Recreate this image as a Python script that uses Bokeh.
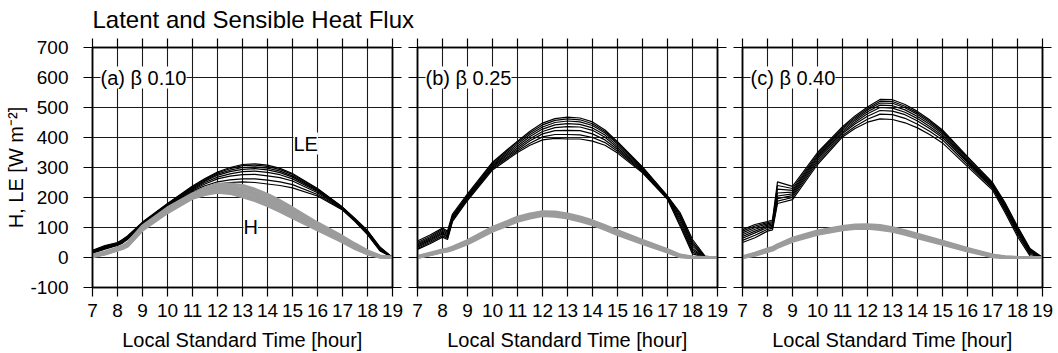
from bokeh.plotting import figure
from bokeh.layouts import row, column
from bokeh.models import Label, LinearAxis, FixedTicker, Range1d
from bokeh.embed import file_html
from bokeh.resources import INLINE

# Local standard time of the samples [hour]
hours = [7, 7.5, 8, 8.2, 8.4, 9, 10, 11, 11.5, 12, 12.5, 13, 13.5, 14, 14.5,
         15, 16, 17, 17.5, 18, 18.5, 19]

# (a) beta 0.10 : latent heat flux LE [W m-2], one row per day
le_a = [
    [24, 40, 50, 60, 72, 118, 180, 238, 263, 285, 300, 310, 312, 308, 297, 280, 230, 168, 130, 90, 35, 0],
    [22, 38, 48, 58, 70, 116, 178, 236, 260, 282, 296, 306, 308, 304, 293, 277, 228, 167, 128, 88, 33, 0],
    [20, 36, 47, 55, 68, 114, 176, 233, 257, 278, 291, 300, 302, 298, 288, 272, 226, 166, 127, 86, 31, 0],
    [18, 35, 45, 54, 66, 113, 175, 231, 254, 274, 286, 294, 296, 292, 283, 268, 223, 165, 126, 84, 30, 0],
    [17, 33, 44, 58, 67, 112, 173, 228, 250, 268, 279, 286, 288, 284, 276, 262, 220, 164, 125, 82, 28, 0],
    [16, 32, 43, 52, 64, 111, 172, 225, 245, 262, 271, 276, 277, 272, 266, 255, 216, 162, 124, 80, 26, 0],
    [15, 30, 42, 50, 62, 110, 170, 222, 239, 252, 259, 262, 262, 258, 252, 243, 210, 160, 122, 78, 24, 0],
    [14, 28, 40, 48, 60, 108, 168, 218, 233, 245, 250, 252, 250, 245, 240, 232, 205, 158, 120, 76, 22, 0],
]
# (a) sensible heat flux H [W m-2]
h_a = [
    [8, 18, 32, 38, 48, 105, 165, 212, 231, 245, 245, 240, 227, 210, 189, 165, 115, 70, 45, 22, 5, 0],
    [6, 16, 30, 36, 45, 100, 160, 207, 225, 238, 237, 230, 217, 200, 180, 157, 108, 64, 40, 18, 4, 0],
    [5, 14, 28, 34, 42, 97, 156, 203, 220, 232, 230, 222, 209, 192, 172, 150, 103, 60, 36, 15, 3, 0],
    [4, 13, 26, 32, 40, 94, 152, 200, 215, 225, 222, 212, 199, 183, 163, 142, 97, 56, 33, 13, 2, 0],
    [3, 12, 25, 30, 38, 92, 150, 198, 210, 218, 214, 203, 190, 173, 154, 133, 92, 52, 30, 12, 2, 0],
]

# (b) beta 0.25
le_b = [
    [55, 75, 98, 88, 145, 212, 318, 388, 421, 448, 463, 468, 465, 452, 425, 386, 302, 205, 150, 60, 5, 0],
    [50, 70, 94, 84, 140, 208, 314, 384, 416, 442, 457, 462, 459, 446, 420, 382, 300, 204, 145, 52, 3, 0],
    [46, 66, 90, 80, 137, 205, 310, 378, 410, 435, 450, 455, 452, 440, 415, 378, 297, 202, 140, 45, 2, 0],
    [42, 62, 86, 76, 134, 202, 306, 372, 403, 428, 442, 446, 444, 432, 408, 372, 294, 200, 135, 38, 1, 0],
    [38, 58, 82, 72, 131, 200, 303, 366, 396, 420, 433, 436, 435, 424, 401, 366, 291, 199, 128, 30, 0, 0],
    [34, 54, 78, 68, 128, 197, 300, 360, 389, 412, 423, 424, 423, 412, 392, 360, 288, 197, 120, 24, 0, 0],
    [30, 50, 73, 64, 124, 194, 296, 355, 381, 402, 410, 410, 409, 400, 383, 354, 285, 196, 112, 18, 0, 0],
    [27, 46, 68, 60, 120, 190, 292, 350, 374, 392, 397, 395, 395, 388, 374, 348, 282, 194, 105, 12, 0, 0],
]
h_b = [
    [3, 14, 25, 28, 34, 56, 100, 134, 145, 152, 151, 145, 135, 122, 106, 89, 57, 26, 8, 1, 0, 0],
    [2, 12, 23, 26, 32, 53, 97, 130, 141, 149, 147, 141, 131, 119, 103, 86, 54, 24, 7, 0, 0, 0],
    [1, 11, 22, 25, 30, 51, 94, 127, 138, 146, 144, 138, 128, 116, 100, 83, 52, 22, 5, 0, 0, 0],
    [1, 10, 20, 23, 28, 48, 91, 124, 135, 143, 141, 135, 125, 113, 97, 80, 49, 20, 4, 0, 0, 0],
    [0, 9, 19, 22, 27, 46, 88, 121, 132, 140, 138, 132, 122, 110, 94, 77, 47, 18, 3, 0, 0, 0],
]

# (c) beta 0.40
le_c = [
    [93, 110, 120, 125, 252, 237, 350, 436, 472, 502, 527, 526, 510, 487, 458, 425, 336, 250, 183, 104, 30, 0],
    [88, 105, 116, 120, 240, 230, 345, 432, 467, 497, 521, 520, 504, 482, 454, 421, 332, 247, 179, 100, 27, 0],
    [82, 100, 112, 116, 228, 224, 340, 428, 462, 492, 515, 514, 499, 477, 449, 417, 328, 244, 175, 96, 24, 0],
    [76, 94, 108, 112, 215, 218, 335, 423, 457, 486, 508, 506, 492, 470, 443, 412, 324, 241, 171, 92, 21, 0],
    [70, 88, 104, 108, 205, 212, 330, 418, 451, 479, 500, 498, 484, 463, 436, 406, 320, 238, 167, 88, 18, 0],
    [64, 82, 100, 104, 196, 206, 324, 413, 445, 471, 490, 488, 476, 455, 429, 400, 316, 235, 162, 84, 14, 0],
    [57, 74, 94, 98, 188, 200, 317, 407, 437, 461, 478, 476, 464, 444, 420, 392, 310, 231, 157, 78, 10, 0],
    [50, 66, 88, 92, 180, 193, 310, 402, 430, 451, 462, 460, 449, 432, 409, 382, 303, 225, 150, 70, 5, 0],
]
h_c = [
    [2, 14, 28, 33, 42, 64, 88, 103, 108, 109, 106, 99, 89, 77, 66, 54, 30, 8, 2, 0, 0, 0],
    [1, 12, 26, 31, 40, 61, 85, 100, 105, 106, 103, 96, 86, 74, 63, 51, 28, 6, 1, 0, 0, 0],
    [0, 10, 24, 29, 38, 59, 83, 98, 102, 104, 100, 94, 84, 72, 61, 49, 26, 5, 0, 0, 0, 0],
    [0, 9, 22, 27, 36, 56, 80, 95, 99, 101, 97, 91, 81, 69, 58, 47, 24, 4, 0, 0, 0, 0],
    [0, 8, 20, 25, 34, 54, 78, 93, 97, 98, 94, 88, 78, 66, 55, 44, 22, 3, 0, 0, 0, 0],
]

title_text = "Latent and Sensible Heat Flux"
panel_names = ["(a) \u03b2 0.10", "(b) \u03b2 0.25", "(c) \u03b2 0.40"]
x_ticks = [7, 8, 9, 10, 11, 12, 13, 14, 15, 16, 17, 18, 19]
y_ticks = [-100, 0, 100, 200, 300, 400, 500, 600, 700]
y_tick_text = {t: str(t) for t in y_ticks}  # plain hyphen for the negative tick

FONT = "Liberation Sans"
TICK_PX = "19px"
LABEL_PX = "20px"
TITLE_H = 36
PANEL_H = 353 - TITLE_H


def style_axis(ax, ticks, show_labels):
    ax.ticker = FixedTicker(ticks=ticks)
    ax.major_tick_in = 0
    ax.major_tick_out = 9
    ax.minor_tick_in = 0
    ax.minor_tick_out = 0
    ax.major_tick_line_color = "black"
    ax.major_tick_line_width = 1.2
    ax.axis_line_color = "black"
    ax.axis_line_width = 1.5
    ax.major_label_text_font = FONT
    if show_labels:
        ax.major_label_text_font_size = TICK_PX
        ax.major_label_text_color = "black"
        ax.major_label_standoff = 7
    else:
        # tick marks only
        ax.major_label_text_font_size = "1px"
        ax.major_label_text_color = None
        ax.major_label_standoff = 0


def make_panel(le, hh, name, width, border_left, border_right, first):
    p = figure(
        width=width, height=PANEL_H, title=None,
        x_range=Range1d(7, 19), y_range=Range1d(-100, 700),
        output_backend="svg", toolbar_location=None,
        min_border_left=border_left, min_border_right=border_right,
        min_border_top=47 - TITLE_H, min_border_bottom=65,
    )
    p.background_fill_color = "white"
    p.border_fill_color = "white"
    p.outline_line_color = "black"
    p.outline_line_width = 1.5

    # bottom axis with hour labels
    xa = p.xaxis[0]
    style_axis(xa, x_ticks, True)
    xa.axis_label = "Local Standard Time [hour]"
    xa.axis_label_text_font = FONT
    xa.axis_label_text_font_size = LABEL_PX
    xa.axis_label_text_font_style = "normal"
    xa.axis_label_text_color = "black"
    xa.axis_label_standoff = 9

    # left axis, labelled only on the first panel
    ya = p.yaxis[0]
    style_axis(ya, y_ticks, first)
    if first:
        ya.major_label_overrides = y_tick_text
        ya.axis_label = "H, LE [W m\u207b\u00b2]"
        ya.axis_label_text_font = FONT
        ya.axis_label_text_font_size = LABEL_PX
        ya.axis_label_text_font_style = "normal"
        ya.axis_label_text_color = "black"
        ya.axis_label_standoff = 0
        ya.major_label_standoff = 15

    # tick-only axes on top and right
    top = LinearAxis()
    style_axis(top, x_ticks, False)
    p.add_layout(top, "above")
    right = LinearAxis()
    style_axis(right, y_ticks, False)
    p.add_layout(right, "right")

    p.xgrid.ticker = FixedTicker(ticks=x_ticks)
    p.ygrid.ticker = FixedTicker(ticks=y_ticks)
    for g in (p.xgrid[0], p.ygrid[0]):
        g.grid_line_color = "#1a1a1a"
        g.grid_line_width = 1.1
        g.grid_line_alpha = 1.0

    p.multi_line(xs=[hours] * len(le), ys=le, line_color="black", line_width=1.2)
    p.multi_line(xs=[hours] * len(hh), ys=hh, line_color="#9c9c9c", line_width=3.2)

    p.add_layout(Label(
        x=7, y=600, x_offset=8, text=name, text_baseline="middle",
        text_font=FONT, text_font_size=LABEL_PX, text_color="black",
        background_fill_color="white",
    ))
    return p


pa = make_panel(le_a, h_a, panel_names[0], 404, 92, 12, True)
pb = make_panel(le_b, h_b, panel_names[1], 325, 13, 12, False)
pc = make_panel(le_c, h_c, panel_names[2], 328, 13, 15, False)

# series names inside panel (a)
pa.add_layout(Label(x=15.04, y=380, text="LE", text_baseline="middle",
                    text_font=FONT, text_font_size=LABEL_PX, text_color="black",
                    background_fill_color="white"))
pa.add_layout(Label(x=13.04, y=101, text="H", text_baseline="middle",
                    text_font=FONT, text_font_size=LABEL_PX, text_color="black",
                    background_fill_color="white"))

# full-width strip carrying the figure title (one canvas pixel per data unit)
pt = figure(width=1057, height=TITLE_H, title=None,
            x_range=Range1d(0, 1057), y_range=Range1d(0, TITLE_H),
            output_backend="svg", toolbar_location=None,
            x_axis_location=None, y_axis_location=None,
            min_border_left=0, min_border_right=0, min_border_top=0, min_border_bottom=0)
pt.outline_line_color = None
pt.grid.visible = False
pt.background_fill_color = "white"
pt.border_fill_color = "white"
pt.add_layout(Label(x=92, y=17, text=title_text, text_baseline="alphabetic",
                    text_font=FONT, text_font_size="24px", text_color="black"))

layout = column(pt, row(pa, pb, pc, spacing=0), spacing=0)
open("out.html", "w").write(file_html(layout, INLINE))
